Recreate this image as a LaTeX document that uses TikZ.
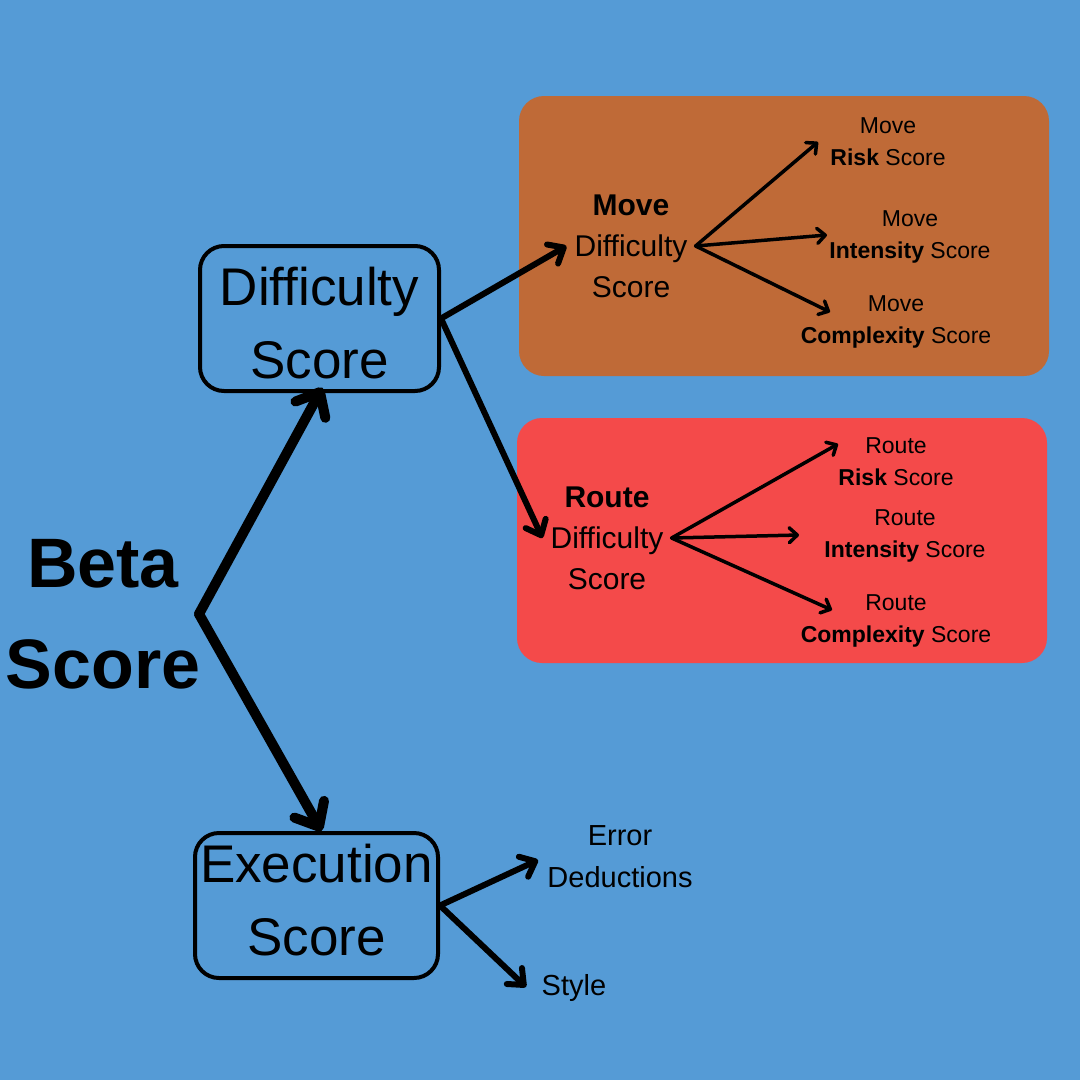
\documentclass[tikz,border=0pt]{standalone}
\usepackage{fontspec}
\setmainfont{Liberation Sans}
\usetikzlibrary{arrows.meta}
\definecolor{bgblue}{HTML}{559BD6}
\definecolor{moveorange}{HTML}{BF6A37}
\definecolor{routered}{HTML}{F44A4A}

\begin{document}
\begin{tikzpicture}[x=1pt, y=-1pt,
  scorebox/.style={draw, line width=4pt, rounded corners=24pt, align=center, inner sep=0pt, font=\fontsize{53}{73}\selectfont},
  subscore/.style={align=center, inner ysep=0pt, inner xsep=8pt, font=\fontsize{30}{41}\selectfont},
  leaf/.style={align=center, inner sep=0pt, font=\fontsize{23}{32}\selectfont},
  bigarrow/.style={line width=10pt, line cap=round, -{Straight Barb[round, length=20pt, width=34pt]}},
  midarrow/.style={line width=6pt, line cap=round, -{Straight Barb[round, length=13pt, width=22pt]}},
  smallarrow/.style={line width=3.5pt, line cap=round, -{Straight Barb[round, length=8pt, width=15pt]}}]
\fill [bgblue] (0,0) rectangle (1080,1080);
\fill [moveorange, rounded corners=25pt] (519,96) rectangle (1049,376);
\fill [routered, rounded corners=25pt] (517,418) rectangle (1047,663);

\node [font=\fontsize{70}{101}\selectfont\bfseries, align=center, inner sep=0pt] (beta) at (103,614) {Beta\\Score};
\coordinate (apex) at (199,614);
% struts move the text a little inside the boxes
\node [scorebox, minimum width=239pt, minimum height=145pt] (diff) at (319.5,318.5) {\rule{0pt}{47pt}Difficulty\\Score};
\node [scorebox, minimum width=243pt, minimum height=145pt] (exec) at (316.5,905.5) {Execution\\Score\rule[-11pt]{0pt}{11pt}};

\node [subscore] (mdiff) at (631,246) {\textbf{Move}\\Difficulty\\Score};
\node [subscore] (rdiff) at (607,538) {\textbf{Route}\\Difficulty\\Score};

\node [leaf] (mrisk) at (888,142) {Move\\\textbf{Risk} Score};
\node [leaf] (mint) at (910,237) {Move\\\textbf{Intensity} Score};
\node [leaf] (mcplx) at (896,321.6) {Move\\\textbf{Complexity} Score};
\node [leaf] (rrisk) at (896,461.3) {Route\\\textbf{Risk} Score};
\node [leaf] (rint) at (905,536) {Route\\\textbf{Intensity} Score};
\node [leaf] (rcplx) at (896,620.6) {Route\\\textbf{Complexity} Score};
\node [font=\fontsize{29}{42}\selectfont, align=center, inner sep=0pt] (err) at (620,856.5) {Error\\Deductions};
\node [font=\fontsize{29}{42}\selectfont, inner sep=0pt, anchor=base west] (style) at (541.5,995) {Style};

% arrow tips next to the small labels
\coordinate (mrisk tip) at (818,142);
\coordinate (mint tip) at (827,235);
\coordinate (mcplx tip) at (830,312);
\coordinate (rrisk tip) at (838,444);
\coordinate (rint tip) at (799,535);
\coordinate (rcplx tip) at (832,610);
\coordinate (err tip) at (538,860);
\coordinate (style tip) at (526,987);

\draw [bigarrow, shorten >=-6pt] (apex) -- (diff.south);
\draw [bigarrow] (apex) -- ([xshift=5pt]exec.north);
\draw [midarrow] (diff.east) -- (mdiff.west);
\draw [midarrow] (diff.east) -- (rdiff.west);
\draw [midarrow] (exec.east) -- (err tip);
\draw [midarrow] (exec.east) -- (style tip);
\draw [smallarrow] (mdiff.east) -- (mrisk tip);
\draw [smallarrow] (mdiff.east) -- (mint tip);
\draw [smallarrow] (mdiff.east) -- (mcplx tip);
\draw [smallarrow] (rdiff.east) -- (rrisk tip);
\draw [smallarrow] (rdiff.east) -- (rint tip);
\draw [smallarrow] (rdiff.east) -- (rcplx tip);
\end{tikzpicture}
\end{document}
